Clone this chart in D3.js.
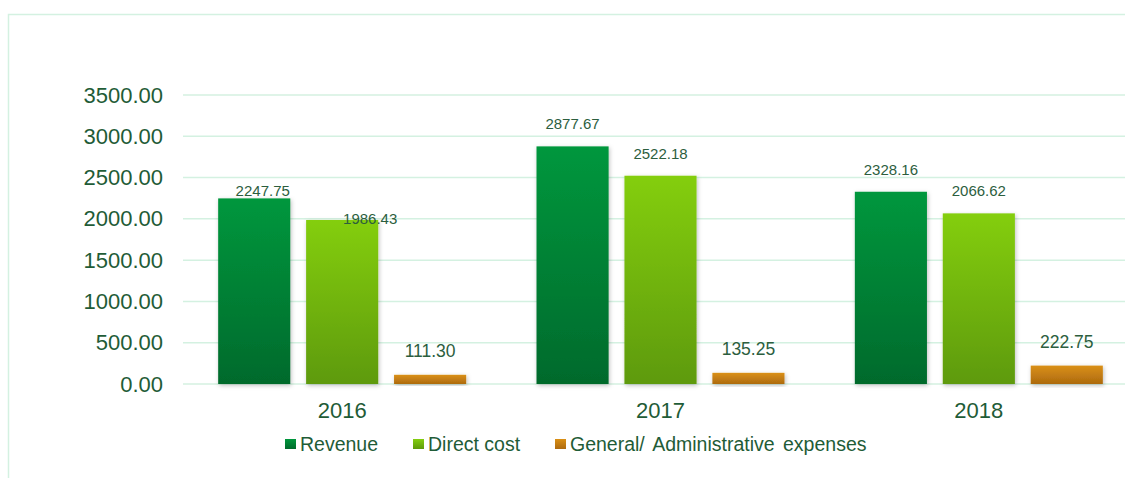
<!DOCTYPE html>
<html>
<head>
<meta charset="utf-8">
<script src="https://cdn.jsdelivr.net/npm/d3@7/dist/d3.min.js"></script>
<style>
  html, body { margin: 0; padding: 0; background: #fff; }
  svg { display: block; font-family: "Liberation Sans", Arial, sans-serif; }
</style>
</head>
<body>
<svg id="chart" width="1125" height="478"></svg>
<script>
const years = ["2016", "2017", "2018"];
const seriesNames = ["Revenue", "Direct cost", "General/ Administrative expenses"];
const revenue = [2247.75, 2877.67, 2328.16];
const directCost = [1986.43, 2522.18, 2066.62];
const gaExpenses = [111.30, 135.25, 222.75];
const yTicks = [0, 500, 1000, 1500, 2000, 2500, 3000, 3500];

const seriesValues = [revenue, directCost, gaExpenses];
const gradients = [
  ["#00973d", "#006a2c"],
  ["#84ce10", "#5e9a0a"],
  ["#da9015", "#ad6a10"]
];
const textColor = "#1f5c37";
const gridColor = "#d4f1e1";
const labelFontSizes = [15, 15, 17.5];

// label offsets (style only), indexed [year][series]: [dx, dy relative to default above-bar]
const labelOffsets = [
  [[8.5, 14.5], [28, 21.5], [0, -1]],
  [[0, 0], [0, 0], [0, -1]],
  [[0, 0], [0, 0], [0, -1]]
];

const svg = d3.select("#chart");
const defs = svg.append("defs");
gradients.forEach((g, i) => {
  const lg = defs.append("linearGradient").attr("id", "grad" + i)
    .attr("x1", 0).attr("y1", 0).attr("x2", 0).attr("y2", 1);
  lg.append("stop").attr("offset", "0%").attr("stop-color", g[0]);
  lg.append("stop").attr("offset", "100%").attr("stop-color", g[1]);
});
const f = defs.append("filter").attr("id", "shadow")
  .attr("x", "-20%").attr("y", "-20%").attr("width", "140%").attr("height", "140%");
f.append("feDropShadow").attr("dx", 1).attr("dy", 1.5).attr("stdDeviation", 2)
  .attr("flood-color", "#000").attr("flood-opacity", 0.25);

// outer border (left & top)
svg.append("path")
  .attr("d", "M8.5,478 L8.5,14.5 L1125,14.5")
  .attr("fill", "none").attr("stroke", gridColor).attr("stroke-width", 1.5);

const y = d3.scaleLinear().domain([0, 3500]).range([384, 95]);
const x0 = d3.scaleBand().domain(years).range([183, 1138]).paddingInner(0).paddingOuter(0);
const x1 = d3.scaleBand().domain(d3.range(seriesNames.length))
  .range([0, x0.bandwidth()]).paddingInner(0.18).paddingOuter(0.4);

// gridlines
svg.append("g").selectAll("line").data(yTicks).join("line")
  .attr("x1", 183).attr("x2", 1125)
  .attr("y1", d => y(d)).attr("y2", d => y(d))
  .attr("stroke", gridColor).attr("stroke-width", 1.5);

// y axis labels
const yAxis = d3.axisLeft(y).tickValues(yTicks).tickFormat(d3.format(".2f")).tickSize(0).tickPadding(0);
const yg = svg.append("g").attr("transform", "translate(163,0)").call(yAxis);
yg.select(".domain").remove();
yg.selectAll("text").attr("fill", textColor).style("font-size", "22px")
  .style("font-family", "'Liberation Sans', Arial, sans-serif");

// x axis labels
const xAxis = d3.axisBottom(x0).tickSize(0).tickPadding(0);
const xg = svg.append("g").attr("transform", "translate(0,402)").call(xAxis);
xg.select(".domain").remove();
xg.selectAll("text").attr("fill", textColor).style("font-size", "22px")
  .style("font-family", "'Liberation Sans', Arial, sans-serif");

// bars
const barData = [];
years.forEach((yr, yi) => {
  seriesValues.forEach((vals, si) => {
    barData.push({ year: yr, yi, si, value: vals[yi] });
  });
});

svg.append("g").selectAll("rect").data(barData).join("rect")
  .attr("x", d => x0(d.year) + x1(d.si))
  .attr("y", d => y(d.value))
  .attr("width", x1.bandwidth())
  .attr("height", d => y(0) - y(d.value))
  .attr("fill", d => `url(#grad${d.si})`)
  .attr("filter", "url(#shadow)");

// data labels
svg.append("g").selectAll("text").data(barData).join("text")
  .attr("x", d => x0(d.year) + x1(d.si) + x1.bandwidth() / 2 + labelOffsets[d.yi][d.si][0])
  .attr("y", d => y(d.value) - 17 + labelOffsets[d.yi][d.si][1])
  .attr("text-anchor", "middle")
  .attr("fill", "#2c5e3e")
  .style("font-size", d => labelFontSizes[d.si] + "px")
  .text(d => d3.format(".2f")(d.value));

// legend
const legendX = [285, 413, 555];
const lg = svg.append("g");
seriesNames.forEach((name, i) => {
  lg.append("rect").attr("x", legendX[i]).attr("y", 439).attr("width", 11).attr("height", 10)
    .attr("fill", `url(#grad${i})`);
  lg.append("text").attr("x", legendX[i] + 15).attr("y", 451)
    .attr("fill", textColor).style("font-size", "19.5px")
    .style("word-spacing", i === 2 ? "3px" : "0px")
    .text(name);
});
</script>
</body>
</html>
